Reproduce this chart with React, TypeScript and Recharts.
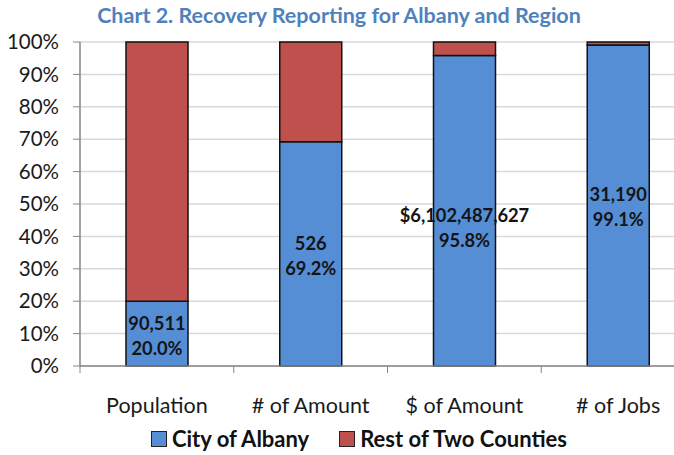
import { Bar, BarChart, CartesianGrid, LabelList, Legend, XAxis, YAxis } from "recharts";

const categories = ["Population", "# of Amount", "$ of Amount", "# of Jobs"];
const albanyShare = [20.0, 69.2, 95.8, 99.1];
const restShare = [80.0, 30.8, 4.2, 0.9];
const albanyCounts = ["90,511", "526", "$6,102,487,627", "31,190"];
const yTicks = [0, 10, 20, 30, 40, 50, 60, 70, 80, 90, 100];

const BLUE = "#558ed5";
const RED = "#c0504d";
const FONT = "Lato, 'Open Sans', sans-serif";

const data = categories.map((name, i) => ({
  name,
  albany: albanyShare[i],
  rest: restShare[i],
  count: albanyCounts[i],
}));

const CHART_W = 695;
const PLOT_LEFT = 80;
const BAND = (CHART_W - PLOT_LEFT) / categories.length;

const CategoryTick = (props: any) => {
  const { x, y, payload } = props;
  return (
    <g>
      <line x1={x - BAND / 2} x2={x - BAND / 2} y1={y - 8} y2={y - 1} stroke="#868686" strokeWidth={1} />
      <text x={x} y={y + 39} textAnchor="middle" fontSize={21.5} fontFamily={FONT} fill="#1a1a1a">
        {payload.value}
      </text>
    </g>
  );
};

const AlbanyLabel = (props: any) => {
  const { x, y, width, height, index } = props;
  const cx = x + width / 2;
  const nudge = index === 2 ? 17 : 2;
  const cy = y + height / 2 + nudge;
  return (
    <text textAnchor="middle" fontSize={18.3} fontWeight={700} fontFamily={FONT} fill="#141414">
      <tspan x={cx} y={cy - 6}>{albanyCounts[index]}</tspan>
      <tspan x={cx} y={cy + 19}>{albanyShare[index].toFixed(1)}%</tspan>
    </text>
  );
};

const LegendContent = () => (
  <div
    style={{
      display: "flex",
      justifyContent: "center",
      alignItems: "center",
      gap: 30,
      fontFamily: FONT,
      fontWeight: 700,
      fontSize: 22,
      lineHeight: "26px",
      color: "#111",
      width: 674,
      paddingLeft: 44,
      paddingTop: 1,
      boxSizing: "border-box",
    }}
  >
    {[
      { label: "City of Albany", color: BLUE },
      { label: "Rest of Two Counties", color: RED },
    ].map((item) => (
      <div key={item.label} style={{ display: "flex", alignItems: "center", gap: 5 }}>
        <span style={{ width: 14, height: 14, background: item.color, border: "1px solid #222" }} />
        <span>{item.label}</span>
      </div>
    ))}
  </div>
);

const App = () => {
  return (
    <div style={{ position: "absolute", left: 0, top: 0, width: 674, height: 455, overflow: "hidden", background: "#fff" }}>
      <div
        style={{
          position: "absolute",
          top: 2,
          left: 0,
          width: 674,
          textAlign: "center",
          fontFamily: FONT,
          fontWeight: 700,
          fontSize: 21.5,
          color: "#4f81bd",
          paddingLeft: 2,
        }}
      >
        Chart 2. Recovery Reporting for Albany and Region
      </div>
      <BarChart
        width={CHART_W}
        height={455}
        data={data}
        margin={{ top: 42, right: 0, bottom: 0, left: 0 }}
        barSize={62}
      >
        <CartesianGrid vertical={false} stroke="#d9d9d9" strokeWidth={1.5} />
        <XAxis
          dataKey="name"
          height={59}
          tickLine={false}
          axisLine={{ stroke: "#868686", strokeWidth: 1.5 }}
          tick={<CategoryTick />}
          interval={0}
        />
        <YAxis
          width={PLOT_LEFT}
          domain={[0, 100]}
          ticks={yTicks}
          tickFormatter={(v: number) => `${v}%`}
          tickSize={7}
          tickMargin={14}
          tickLine={{ stroke: "#868686" }}
          axisLine={{ stroke: "#868686", strokeWidth: 1.5 }}
          tick={{ fontSize: 20.5, fontFamily: FONT, fill: "#1a1a1a" }}
          interval={0}
        />
        <Legend verticalAlign="bottom" height={30} content={<LegendContent />} />
        <Bar dataKey="albany" stackId="a" fill={BLUE} stroke="#111" strokeWidth={1.5} isAnimationActive={false}>
          <LabelList dataKey="albany" content={<AlbanyLabel />} />
        </Bar>
        <Bar dataKey="rest" stackId="a" fill={RED} stroke="#111" strokeWidth={1.5} isAnimationActive={false} />
      </BarChart>
    </div>
  );
};

export default App;
